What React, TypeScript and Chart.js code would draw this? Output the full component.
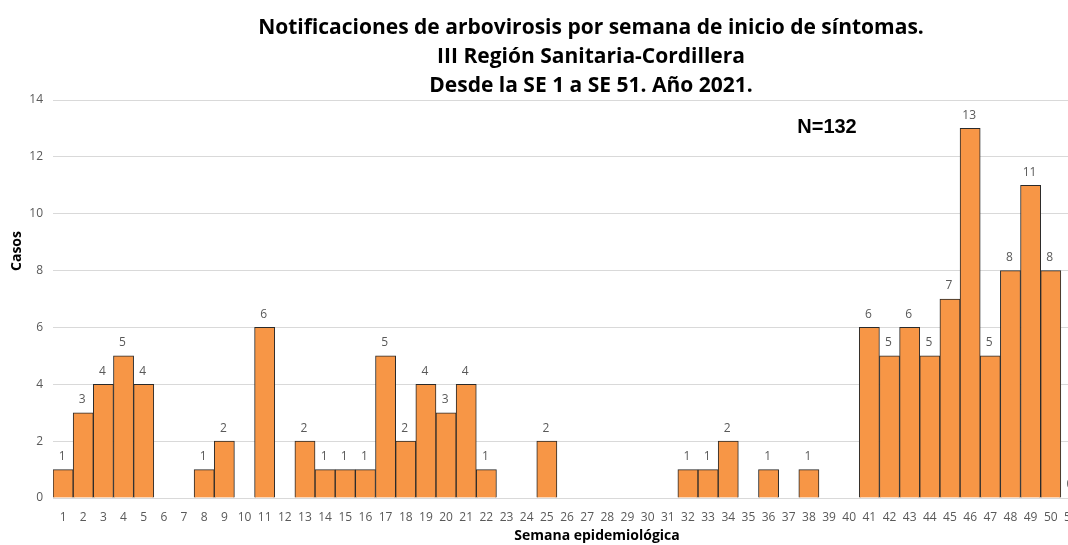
import React, { useEffect, useRef } from "react";
import { Chart, registerables } from "chart.js";

Chart.register(...registerables);

const titleLines = [
  "Notificaciones de arbovirosis por semana de inicio de síntomas.",
  "III Región Sanitaria-Cordillera",
  "Desde la SE 1 a SE 51. Año 2021.",
];
const annotationText = "N=132";
const xAxisTitle = "Semana epidemiológica";
const yAxisTitle = "Casos";

const weeks = [
  "1", "2", "3", "4", "5", "6", "7", "8", "9", "10",
  "11", "12", "13", "14", "15", "16", "17", "18", "19", "20",
  "21", "22", "23", "24", "25", "26", "27", "28", "29", "30",
  "31", "32", "33", "34", "35", "36", "37", "38", "39", "40",
  "41", "42", "43", "44", "45", "46", "47", "48", "49", "50",
  "51",
];

const cases: (number | null)[] = [
  1, 3, 4, 5, 4, null, null, 1, 2, null,
  6, null, 2, 1, 1, 1, 5, 2, 4, 3,
  4, 1, null, null, 2, null, null, null, null, null,
  null, 1, 1, 2, null, 1, null, 1, null, null,
  6, 5, 6, 5, 7, 13, 5, 8, 11, 8,
  0,
];

const yMax = 14;
const yStep = 2;

const CANVAS_W = 1085;
const CANVAS_H = 545;

export default function App() {
  const ref = useRef<HTMLCanvasElement | null>(null);

  useEffect(() => {
    if (!ref.current) return;

    const textPlugin = {
      id: "textPlugin",
      afterDatasetsDraw(chart: any) {
        const ctx = chart.ctx;
        const meta = chart.getDatasetMeta(0);
        ctx.save();
        ctx.fillStyle = "#595959";
        ctx.font = "12px 'Open Sans'";
        ctx.textAlign = "center";
        ctx.textBaseline = "middle";
        meta.data.forEach((bar: any, i: number) => {
          const v = cases[i];
          if (v === null || v === undefined) return;
          ctx.fillText(String(v), bar.x - 1, bar.y - 13);
        });
        ctx.restore();
      },
      afterDraw(chart: any) {
        const ctx = chart.ctx;
        ctx.save();
        ctx.fillStyle = "#000000";
        ctx.textAlign = "center";
        ctx.textBaseline = "alphabetic";
        ctx.font = "bold 21px 'Open Sans'";
        const baselines = [34, 63, 92];
        titleLines.forEach((t, i) => ctx.fillText(t, 591, baselines[i]));

        ctx.font = "bold 20px 'Liberation Sans'";
        ctx.fillText(annotationText, 827, 133);

        ctx.font = "bold 14px 'Open Sans'";
        ctx.textBaseline = "middle";
        ctx.fillText(xAxisTitle, 597, 536);

        ctx.translate(17, 251);
        ctx.rotate(-Math.PI / 2);
        ctx.fillText(yAxisTitle, 0, 0);
        ctx.restore();
      },
    };

    const chart = new Chart(ref.current, {
      type: "bar",
      data: {
        labels: weeks,
        datasets: [
          {
            data: cases,
            backgroundColor: "#F79646",
            borderColor: "#2a2a2a",
            borderWidth: 1,
            categoryPercentage: 1,
            barPercentage: 1,
          },
        ],
      },
      options: {
        responsive: false,
        animation: false,
        devicePixelRatio: 1,
        layout: { padding: { top: 100, right: 4, left: 0, bottom: 0 } },
        plugins: {
          legend: { display: false },
          title: { display: false },
          tooltip: { enabled: false },
        },
        scales: {
          x: {
            grid: { display: false },
            border: { display: true, color: "#d9d9d9" },
            ticks: {
              color: "#595959",
              font: { family: "'Open Sans'", size: 12 },
              maxRotation: 0,
              autoSkip: false,
              padding: 4,
            },
            afterFit(scale: any) {
              scale.height = 47;
            },
          },
          y: {
            min: 0,
            max: yMax,
            ticks: {
              stepSize: yStep,
              color: "#595959",
              font: { family: "'Open Sans'", size: 12 },
              padding: 10,
            },
            grid: { color: "#d9d9d9", drawTicks: false },
            border: { display: false },
            afterFit(scale: any) {
              scale.width = 53;
            },
          },
        },
      },
      plugins: [textPlugin],
    });

    return () => chart.destroy();
  }, []);

  return (
    <div
      style={{
        position: "fixed",
        left: 0,
        top: 0,
        width: 1068,
        height: 545,
        overflow: "hidden",
        background: "#ffffff",
      }}
    >
      <canvas ref={ref} width={CANVAS_W} height={CANVAS_H} style={{ display: "block" }} />
    </div>
  );
}
